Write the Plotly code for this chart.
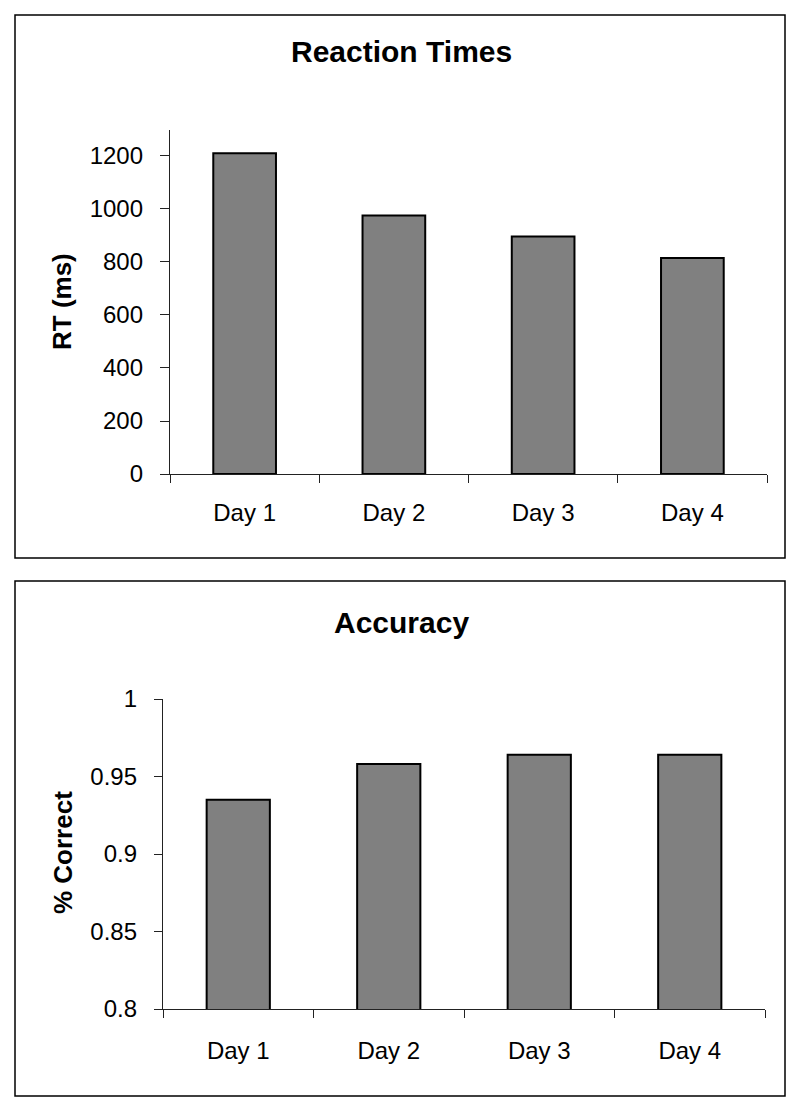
import plotly.graph_objects as go

days = ["Day 1", "Day 2", "Day 3", "Day 4"]
rt_ms = [1210, 975, 896, 815]
accuracy = [0.935, 0.958, 0.964, 0.964]
rt_ticks = [0, 200, 400, 600, 800, 1000, 1200]
acc_ticks = [0.8, 0.85, 0.9, 0.95, 1.0]
acc_ticktext = ["0.8", "0.85", "0.9", "0.95", "1"]

W, H = 800, 1112
OFF = 8  # page body margin
FONT = "Liberation Sans, Arial, sans-serif"

def px(x):
    return (x - OFF) / W

def py(y):
    return 1 - (y - OFF) / H

bar_marker = dict(color="#808080", line=dict(color="black", width=2))

fig = go.Figure()
fig.add_trace(go.Bar(x=days, y=rt_ms, xaxis="x", yaxis="y", width=0.42,
                     marker=bar_marker, showlegend=False))
fig.add_trace(go.Bar(x=days, y=accuracy, xaxis="x2", yaxis="y2", width=0.42,
                     marker=bar_marker, showlegend=False))

axis_common = dict(showgrid=False, zeroline=False, showline=True, linecolor="#222",
                   linewidth=1.3, ticks="outside", tickcolor="#222", tickwidth=1.3,
                   automargin=False,
                   tickfont=dict(family=FONT, size=24, color="black"))

fig.update_layout(
    template="none",
    width=W, height=H, margin=dict(l=0, r=0, t=0, b=0, pad=0),
    paper_bgcolor="white", plot_bgcolor="white",
    font=dict(family=FONT, color="black"),
    showlegend=False,
    xaxis=dict(axis_common, domain=[px(170), px(767)], anchor="y", type="category",
               tickson="boundaries", ticklen=8, range=[-0.5, 3.5], ticklabelstandoff=17),
    yaxis=dict(axis_common, domain=[py(474), py(130)], anchor="x", range=[0, 1298],
               tickvals=rt_ticks, ticklen=9, ticklabelstandoff=12),
    xaxis2=dict(axis_common, domain=[px(163), px(765)], anchor="y2", type="category",
                tickson="boundaries", ticklen=8, range=[-0.5, 3.5], ticklabelstandoff=20),
    yaxis2=dict(axis_common, domain=[py(1009), py(699)], anchor="x2", range=[0.8, 1.0],
                tickvals=acc_ticks, ticktext=acc_ticktext,
                ticklen=8, ticklabelstandoff=12),
)

fig.add_shape(type="rect", xref="paper", yref="paper", x0=px(15), x1=px(785),
              y0=py(558), y1=py(15), line=dict(color="black", width=1.5))
fig.add_shape(type="rect", xref="paper", yref="paper", x0=px(15), x1=px(785),
              y0=py(1096), y1=py(581), line=dict(color="black", width=1.5))

ann = dict(xref="paper", yref="paper", showarrow=False, xanchor="center", yanchor="middle")
fig.add_annotation(ann, text="<b>Reaction Times</b>", x=px(401), y=py(52),
                   font=dict(family=FONT, size=30, color="black"))
fig.add_annotation(ann, text="<b>Accuracy</b>", x=px(401), y=py(622),
                   font=dict(family=FONT, size=30, color="black"))
fig.add_annotation(ann, text="<b>RT (ms)</b>", x=px(62), y=py(302), textangle=-90,
                   font=dict(family=FONT, size=26, color="black"))
fig.add_annotation(ann, text="<b>% Correct</b>", x=px(63), y=py(853), textangle=-90,
                   font=dict(family=FONT, size=26, color="black"))

fig.write_html("out.html")
